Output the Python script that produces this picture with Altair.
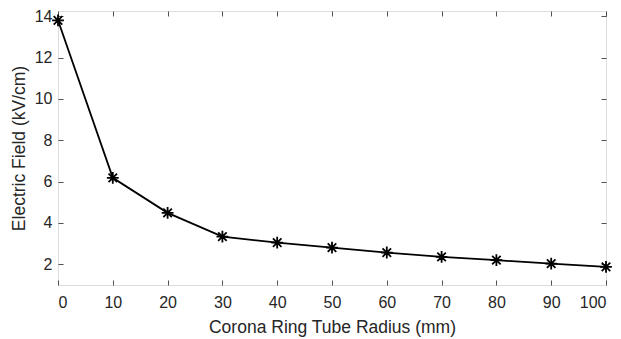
import altair as alt
import pandas as pd

radius_mm = [0, 10, 20, 30, 40, 50, 60, 70, 80, 90, 100]
field_kv_cm = [13.8, 6.18, 4.49, 3.34, 3.05, 2.81, 2.57, 2.36, 2.2, 2.03, 1.88]
x_ticks = [0, 10, 20, 30, 40, 50, 60, 70, 80, 90, 100]
y_ticks = [2, 4, 6, 8, 10, 12, 14]

df = pd.DataFrame({"r": radius_mm, "e": field_kv_cm})

FONT = "Liberation Sans"
AX = "#262626"
star = "M0,-1L0,1M-1,0L1,0M-0.72,-0.72L0.72,0.72M-0.72,0.72L0.72,-0.72"

xs = alt.Scale(domain=[0, 100], nice=False, zero=False)
ys = alt.Scale(domain=[1, 14.25], nice=False, zero=False)

common = dict(domain=False, grid=False, tickColor=AX, tickWidth=0.8, tickSize=5,
              labelFont=FONT, labelFontSize=16, labelColor=AX,
              titleFont=FONT, titleFontSize=17.5, titleColor=AX, titleFontWeight="normal")

line = alt.Chart(df).mark_line(color="black", strokeWidth=1.8).encode(
    x=alt.X("r:Q", scale=xs, axis=alt.Axis(orient="bottom", values=x_ticks, offset=-5,
            labelPadding=9, title="Corona Ring Tube Radius (mm)", titlePadding=8, **common)),
    y=alt.Y("e:Q", scale=ys, axis=alt.Axis(orient="left", values=y_ticks, offset=-5,
            labelPadding=6, title="Electric Field (kV/cm)", titlePadding=6, **common)),
)

pts = alt.Chart(df).mark_point(shape=star, size=140, color="black", filled=False,
                               strokeWidth=1.8, opacity=1).encode(
    x=alt.X("r:Q", scale=xs, axis=alt.Axis(orient="top", values=x_ticks, offset=-5,
            labels=False, title=None, **common)),
    y=alt.Y("e:Q", scale=ys, axis=alt.Axis(orient="right", values=y_ticks, offset=-5,
            labels=False, title=None, **common)),
)

chart = alt.layer(line, pts).resolve_axis(x="independent", y="independent").properties(
    width=548, height=274,
    autosize=alt.AutoSizeParams(type="none"),
    padding={"left": 58, "top": 11, "right": 15, "bottom": 54},
).configure_view(stroke=AX, strokeWidth=1).configure(background="white")

chart.save("out.html", embed_options={"renderer": "svg", "actions": False})
